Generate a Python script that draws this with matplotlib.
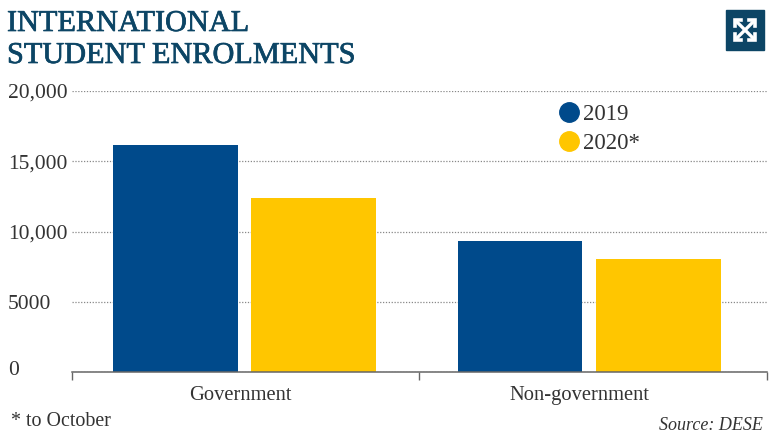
import matplotlib
matplotlib.use('Agg')
from matplotlib import pyplot as plt
from matplotlib import patheffects
from matplotlib.lines import Line2D
from matplotlib.patches import Rectangle
from matplotlib.transforms import ScaledTranslation
import numpy as np

#data########################################################################
categories = ['Government', 'Non-government']
enrol_2019 = [16150, 9290]
enrol_2020 = [12380, 8040]
y_ticks = [0, 5000, 10000, 15000, 20000]
y_labels = ['0', '5000', '10,000', '15,000', '20,000']
series_names = ['2019', '2020*']

BLUE = '#004a8b'
YELLOW = '#ffc600'
TITLE_COL = '#0c4565'
TEXT_COL = '#333333'
W, H = 779, 437

plt.rcParams['font.family'] = ['Liberation Serif', 'DejaVu Serif']

fig = plt.figure(figsize=(W/100, H/100), dpi=100)
ax = fig.add_axes([72/W, 1-372/H, (767-72)/W, 281/H])

#bars########################################################################
x = np.array([-0.0036, 0.989])
width = 0.358
ax.bar(x-0.199, enrol_2019, width, color=BLUE, zorder=3)
ax.bar(x+0.199, enrol_2020, width, color=YELLOW, zorder=3)
ax.set_xlim(-0.5, 1.5)
ax.set_ylim(0, 20000)

#axes########################################################################
for s in ['top', 'left', 'right']:
    ax.spines[s].set_visible(False)
ax.spines['bottom'].set_color('#666666')
ax.spines['bottom'].set_linewidth(1.1)
ax.spines['bottom'].set_zorder(4)

ax.set_xticks([-0.5, 0.498, 1.5])
ax.set_xticklabels([])
ax.tick_params(axis='x', which='major', length=6, width=1, color='#666666')
ax.set_xticks([-0.015, 0.96], minor=True)
ax.set_xticklabels(categories, minor=True)
ax.tick_params(axis='x', which='minor', length=0, pad=10, labelsize=14.8, labelcolor=TEXT_COL)

ax.set_yticks(y_ticks)
ax.set_yticklabels(y_labels, ha='left', fontsize=15.5, color=TEXT_COL)
ax.tick_params(axis='y', length=0, pad=46)
ax.yaxis.grid(True, linestyle=(0, (1, 1.3)), linewidth=0.9, color='#888888', zorder=1)
ax.set_axisbelow(True)
# zero sits a bit above the axis line
zero = ax.get_yticklabels()[0]
zero.set_transform(zero.get_transform() + ScaledTranslation(0, 3/72, fig.dpi_scale_trans))

#legend######################################################################
handles = [Line2D([], [], linestyle='none', marker='o', markersize=14, color=BLUE),
           Line2D([], [], linestyle='none', marker='o', markersize=14, color=YELLOW)]
ax.legend(handles, series_names, loc='upper left', bbox_to_anchor=(0.698, 0.953), frameon=False,
          fontsize=16.5, labelcolor=TEXT_COL, handlelength=1, handletextpad=0.15, labelspacing=0.33,
          borderpad=0, borderaxespad=0)

#title and notes#############################################################
title_kw = dict(fontsize=21.8, color=TITLE_COL, va='center',
                path_effects=[patheffects.withStroke(linewidth=0.5, foreground=TITLE_COL)])
fig.text(7/W, 1-24/H, 'INTERNATIONAL', **title_kw)
fig.text(7/W, 1-56/H, 'STUDENT ENROLMENTS', **title_kw)
fig.text(11/W, 1-421/H, '* to October', fontsize=14.4, color=TEXT_COL, va='center')
fig.text(763/W, 1-425/H, 'Source: DESE', fontsize=13, color=TEXT_COL, va='center', ha='right', style='italic')

#expand icon#################################################################
fig.add_artist(Rectangle((726/W, 1-50/H), 38/W, 40/H, transform=fig.transFigure, color=TITLE_COL))
arrow_kw = dict(transform=fig.transFigure, color='white', linewidth=2.4)
fig.add_artist(Line2D([737/W, 753/W], [1-22/H, 1-38/H], **arrow_kw))
fig.add_artist(Line2D([737/W, 753/W], [1-38/H, 1-22/H], **arrow_kw))
for cx, cy, sx, sy in [(735, 20, 1, 1), (755, 20, -1, 1), (735, 40, 1, -1), (755, 40, -1, -1)]:
    fig.add_artist(Line2D([(cx+sx*6)/W, cx/W, cx/W], [1-cy/H, 1-cy/H, 1-(cy+sy*6)/H],
                          transform=fig.transFigure, color='white', linewidth=2.6,
                          solid_joinstyle='miter'))

fig.savefig('out.png', dpi=100)
